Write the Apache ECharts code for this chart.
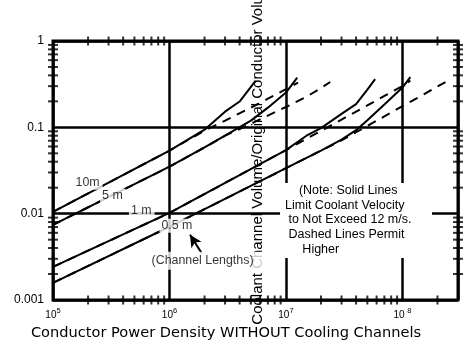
<!DOCTYPE html>
<html><head><meta charset="utf-8">
<script src="https://cdn.jsdelivr.net/npm/echarts@6/dist/echarts.min.js"></script>
<style>html,body{margin:0;padding:0;background:#fff}#c{width:465px;height:347px}</style>
</head><body><div id="c"></div>
<script>
// ---- data ----
const xTickExps = ['5', '6', '7', '8'];
const xTickBase = ['10', '10', '10', '10 '];
const yTickLabels = ['0.001', '0.01', '0.1', '1'];
const minorMultipliers = [2, 3, 4, 5, 6, 7, 8, 9];

const len10Solid  = [[1e5,0.0105],[1e6,0.0537],[2e6,0.094],[3e6,0.152],[4e6,0.199],[5.5e6,0.348]];
const len10Dashed = [[1e5,0.0105],[1e6,0.0537],[2e6,0.0917],[3e6,0.1197],[5e6,0.169],[7e6,0.215],[1e7,0.277],[1.27e7,0.330]];
const len5Solid   = [[1e5,0.00743],[1e6,0.035],[2e6,0.0585],[3e6,0.080],[5e6,0.1196],[7e6,0.169],[1e7,0.253],[1.25e7,0.377]];
const len5Dashed  = [[1e5,0.00743],[1e6,0.035],[2e6,0.0585],[3e6,0.080],[5e6,0.110],[7e6,0.137],[1e7,0.172],[1.5e7,0.226],[2e7,0.285],[2.4e7,0.335]];
const len1Solid   = [[1e5,0.00242],[1e6,0.0102],[1e7,0.0544],[1.5e7,0.080],[2e7,0.098],[3e7,0.143],[4e7,0.186],[5e7,0.273],[5.83e7,0.362]];
const len1Dashed  = [[1e5,0.00242],[1e6,0.0102],[1e7,0.0544],[1.5e7,0.0736],[2e7,0.0908],[3e7,0.123],[5e7,0.1795],[7e7,0.231],[1e8,0.301],[1.17e8,0.348]];
const len05Solid  = [[1e5,0.00158],[1e6,0.00705],[1e7,0.0336],[2e7,0.0537],[3e7,0.072],[4e7,0.0928],[5e7,0.121],[7e7,0.184],[1e8,0.289],[1.17e8,0.382]];
const len05Dashed = [[1e5,0.00158],[1e6,0.00705],[1e7,0.0336],[2e7,0.0537],[3e7,0.0705],[4e7,0.088],[5e7,0.1038],[7e7,0.134],[1e8,0.176],[1.5e8,0.238],[2e8,0.297],[2.47e8,0.348]];

const lengthLabels = ['10m', '5 m', '1 m', '0.5 m', '(Channel Lengths)'];
const lengthLabelX = [2.0e5, 3.27e5, 5.78e5, 1.17e6, 2.06e6];
const lengthLabelY = [0.0228, 0.01614, 0.0108, 0.00724, 0.00284];
const arrowFrom = [1.89e6, 0.00349];
const arrowTo = [1.50e6, 0.00569];

const xTitle = 'Conductor Power Density WITHOUT Cooling Channels';
const yTitle = 'Coolant Channel Volume/Original Conductor Volume';
const noteLines = ['    (Note: Solid Lines', 'Limit Coolant Velocity', ' to Not Exceed 12 m/s.', ' Dashed Lines Permit', '     Higher'];

// ---- chart ----
const X_MIN = 1e5, X_MAX = 3e8, Y_MIN = 0.001, Y_MAX = 1;
const FONT = '"Liberation Sans", Arial, sans-serif';

const minorTicks = [];
for (let e = 5; e <= 8; e++) for (const k of minorMultipliers) {
  const v = k * Math.pow(10, e);
  if (v < X_MAX) {
    minorTicks.push({ value: [v, Y_MIN], symbolSize: [2, 9] });
    minorTicks.push({ value: [v, Y_MAX], symbolSize: [2, 9] });
  }
}
for (let e = -3; e < 0; e++) for (const k of minorMultipliers) {
  const v = k * Math.pow(10, e);
  minorTicks.push({ value: [X_MIN, v], symbolSize: [10, 2] });
  minorTicks.push({ value: [X_MAX, v], symbolSize: [10, 2] });
}

function lineSeries(name, data, dashed) {
  return {
    type: 'line', name, data, symbol: 'none', showSymbol: false, silent: true,
    lineStyle: { color: '#000', width: 2, type: dashed ? [9, 7] : 'solid' },
    z: dashed ? 3 : 2, animation: false
  };
}

function isPow10(v) {
  const l = Math.log10(v);
  return Math.abs(l - Math.round(l)) < 1e-6 ? Math.round(l) : null;
}

const chart = echarts.init(document.getElementById('c'), null, { renderer: 'canvas' });
chart.setOption({
  animation: false,
  backgroundColor: '#fff',
  grid: { left: 53, right: 7, top: 41, bottom: 47, show: true, borderColor: '#000', borderWidth: 3, backgroundColor: 'transparent' },
  xAxis: {
    type: 'log', logBase: 10, min: X_MIN, max: X_MAX,
    axisLine: { show: false }, axisTick: { show: false },
    splitLine: { show: true, lineStyle: { color: '#000', width: 2.5 } },
    axisLabel: {
      margin: 7, showMinLabel: true, showMaxLabel: true, hideOverlap: false,
      formatter: function (v) {
        const e = isPow10(v);
        if (e === null) return '';
        const i = xTickExps.indexOf(String(e));
        if (i < 0) return '';
        return '{b|' + xTickBase[i] + '}{s|' + xTickExps[i] + '}';
      },
      rich: {
        b: { fontSize: 10, fontFamily: FONT, color: '#000', verticalAlign: 'bottom' },
        s: { fontSize: 7.5, fontFamily: FONT, color: '#000', verticalAlign: 'bottom', padding: [0, 0, 5, 0] }
      }
    }
  },
  yAxis: {
    type: 'log', logBase: 10, min: Y_MIN, max: Y_MAX,
    axisLine: { show: false }, axisTick: { show: false },
    splitLine: { show: true, lineStyle: { color: '#000', width: 2.5 } },
    axisLabel: {
      margin: 9, fontSize: 12, fontFamily: FONT, color: '#000', showMinLabel: true, showMaxLabel: true,
      formatter: function (v) {
        const e = isPow10(v);
        if (e === null) return '';
        return yTickLabels[e + 3] || '';
      }
    }
  },
  series: [
    lineSeries('10 m solid', len10Solid, false),
    lineSeries('5 m solid', len5Solid, false),
    lineSeries('1 m solid', len1Solid, false),
    lineSeries('0.5 m solid', len05Solid, false),
    lineSeries('10 m dashed', len10Dashed, true),
    lineSeries('5 m dashed', len5Dashed, true),
    lineSeries('1 m dashed', len1Dashed, true),
    lineSeries('0.5 m dashed', len05Dashed, true),
    {
      type: 'scatter', name: 'ticks', data: minorTicks, symbol: 'rect', clip: false, silent: true,
      itemStyle: { color: '#000' }, z: 4, animation: false
    },
    {
      type: 'scatter', name: 'labels', clip: false, silent: true, symbolSize: 1,
      itemStyle: { color: 'rgba(0,0,0,0)' }, z: 6, animation: false,
      data: lengthLabels.map((t, i) => {
        const item = { name: t, value: [lengthLabelX[i], lengthLabelY[i]] };
        if (i === lengthLabels.length - 1) item.label = { padding: [5, 9, 1, 2] };
        return item;
      }),
      label: {
        show: true, position: 'inside', formatter: '{b}', color: '#000',
        fontSize: 12.4, fontFamily: FONT, backgroundColor: '#fff', padding: [1, 3, 1, 2]
      },
      markLine: {
        silent: true, animation: false, symbol: ['none', 'arrow'], symbolSize: [9, 12],
        label: { show: false },
        lineStyle: { color: '#000', width: 2, type: 'solid' },
        data: [[{ coord: arrowFrom }, { coord: arrowTo }]]
      }
    }
  ],
  graphic: [
    { type: 'text', x: 258, y: 150, rotation: Math.PI / 2, z: 1, silent: true,
      style: { text: yTitle, fontSize: 15, fontFamily: FONT, fill: '#000', align: 'center', verticalAlign: 'middle', textAlign: 'center', textVerticalAlign: 'middle' } },
    { type: 'text', x: 226, y: 333, z: 1, silent: true,
      style: { text: xTitle, fontSize: 14.6, fontFamily: '"DejaVu Sans", sans-serif', fill: '#000', align: 'center', verticalAlign: 'middle', textAlign: 'center', textVerticalAlign: 'middle' } },
    { type: 'rect', z: 10, silent: true, shape: { x: 280, y: 183, width: 152, height: 75 }, style: { fill: '#fff' } },
    { type: 'text', x: 285, y: 183, z: 11, silent: true,
      style: { text: noteLines.join('\n'), fontSize: 12.5, lineHeight: 14.8, fontFamily: FONT, fill: '#000', align: 'left', verticalAlign: 'top', textAlign: 'left', textVerticalAlign: 'top' } }
  ]
});
</script>
</body></html>
